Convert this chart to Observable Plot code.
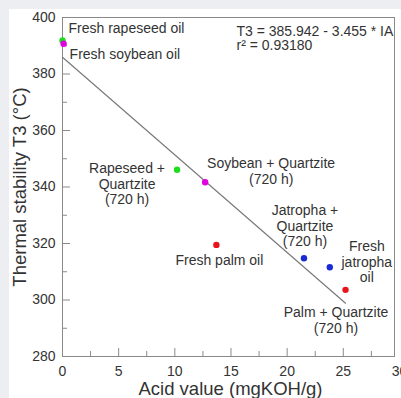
<!DOCTYPE html>
<html>
<head>
<meta charset="utf-8">
<script src="https://cdn.jsdelivr.net/npm/d3@7"></script>
<script src="https://cdn.jsdelivr.net/npm/@observablehq/plot@0.6"></script>
<style>
  html, body { margin: 0; padding: 0; background: #eceef1; }
  body { width: 401px; height: 398px; overflow: hidden; position: relative; }
  #card { position: absolute; left: 9px; top: 9px; width: 392px; height: 389px; background: #fff; }
</style>
</head>
<body>
<div id="card"></div>
<script>
// Acid value vs. thermal stability (T3) of fresh and quartzite-aged vegetable oils
const oils = ["rapeseed", "soybean", "rapeseed", "soybean", "palm", "jatropha", "jatropha", "palm"];
const acidValue = [0.0, 0.1, 10.2, 12.7, 13.7, 21.5, 23.8, 25.2];
const t3 = [391.9, 390.7, 346.1, 341.7, 319.5, 314.8, 311.6, 303.6];
const pointLabels = [
  "Fresh rapeseed oil",
  "Fresh soybean oil",
  "Rapeseed +\nQuartzite\n(720 h)",
  "Soybean + Quartzite\n(720 h)",
  "Fresh palm oil",
  "Jatropha +\nQuartzite\n(720 h)",
  "Fresh\njatropha\noil",
  "Palm + Quartzite\n(720 h)"
];
const oilNames = ["rapeseed", "soybean", "palm", "jatropha"];
const oilColors = ["#1fdc1f", "#e000e0", "#e8141c", "#1a2ad6"];

// Linear fit T3 = a + b * IA
const intercept = 385.942;
const slope = -3.455;
const r2 = "0.93180";

const xTicks = [0, 5, 10, 15, 20, 25, 30];
const xMinor = [2.5, 7.5, 12.5, 17.5, 22.5, 27.5];
const yTicks = [280, 300, 320, 340, 360, 380, 400];
const yMinor = [290, 310, 330, 350, 370, 390];

const xLabel = "Acid value (mgKOH/g)";
const yLabel = "Thermal stability T3 (°C)";

// layout
const W = 392, H = 389;
const mL = 53, mR = 7, mT = 8, mB = 42;
const pw = W - mL - mR, ph = H - mT - mB;
const xMax = 29.56; // right edge of the frame box
const axisColor = "#8a8a8a";
const textColor = "#333";
const font = "'Liberation Sans', Arial, Helvetica, sans-serif";

// label offsets from each point: [dx, dy, anchor]
const labelPlacement = [
  [6, -12, "start"],
  [6, 10, "start"],
  [-50, 14, "middle"],
  [66, -11, "middle"],
  [3, 15, "middle"],
  [1, -32.5, "middle"],
  [37, -5.5, "middle"],
  [-9.5, 30.4, "middle"]
];

const idx = d3.range(acidValue.length);

const labelMarks = idx.map(i => Plot.text([i], {
  x: j => acidValue[j],
  y: j => t3[j],
  text: j => pointLabels[j],
  dx: labelPlacement[i][0],
  dy: labelPlacement[i][1],
  textAnchor: labelPlacement[i][2],
  lineAnchor: "middle",
  lineHeight: 1.12,
  fontSize: 14,
  fill: textColor
}));

const chart = Plot.plot({
  width: W,
  height: H,
  marginLeft: mL,
  marginRight: mR,
  marginTop: mT,
  marginBottom: mB,
  style: { fontFamily: font, fontSize: "14px", color: textColor, background: "transparent" },
  x: { domain: [0, xMax], ticks: xTicks, tickSize: 0, tickPadding: 10, label: null },
  y: { domain: [280, 400], ticks: yTicks, tickSize: 0, tickPadding: 7, label: null },
  color: { type: "ordinal", domain: oilNames, range: oilColors },
  marks: [
    Plot.frame({ stroke: axisColor, strokeWidth: 1 }),
    // inward tick marks
    Plot.tickY(yTicks, { y: d => d, stroke: axisColor, insetRight: pw - 8 }),
    Plot.tickY(yMinor, { y: d => d, stroke: axisColor, insetRight: pw - 5 }),
    Plot.tickX(xTicks.filter(d => d <= xMax), { x: d => d, stroke: axisColor, insetTop: ph - 8 }),
    Plot.tickX(xMinor, { x: d => d, stroke: axisColor, insetTop: ph - 5 }),
    // regression line
    Plot.line([0, d3.max(acidValue)], {
      x: d => d,
      y: d => intercept + slope * d,
      stroke: "#7a7a7a",
      strokeWidth: 1.2
    }),
    Plot.dot(idx, {
      x: i => acidValue[i],
      y: i => t3[i],
      fill: i => oils[i],
      r: 3.2,
      stroke: null
    }),
    ...labelMarks,
    // fit equation
    Plot.text([`T3 = ${intercept} - ${-slope} * IA\nr² = ${r2}`], {
      frameAnchor: "top-left",
      dx: 174,
      dy: 21.5,
      textAnchor: "start",
      lineAnchor: "middle",
      lineHeight: 1.0,
      fontSize: 14,
      fill: textColor
    }),
    // axis titles
    Plot.text([xLabel], {
      frameAnchor: "bottom",
      dy: 33,
      dx: 2,
      textAnchor: "middle",
      lineAnchor: "middle",
      fontSize: 18.5,
      fill: textColor
    }),
    Plot.text([yLabel], {
      frameAnchor: "left",
      dx: -42,
      rotate: -90,
      textAnchor: "middle",
      lineAnchor: "middle",
      fontSize: 18.5,
      fill: textColor
    })
  ]
});

document.getElementById("card").appendChild(chart);
</script>
</body>
</html>
